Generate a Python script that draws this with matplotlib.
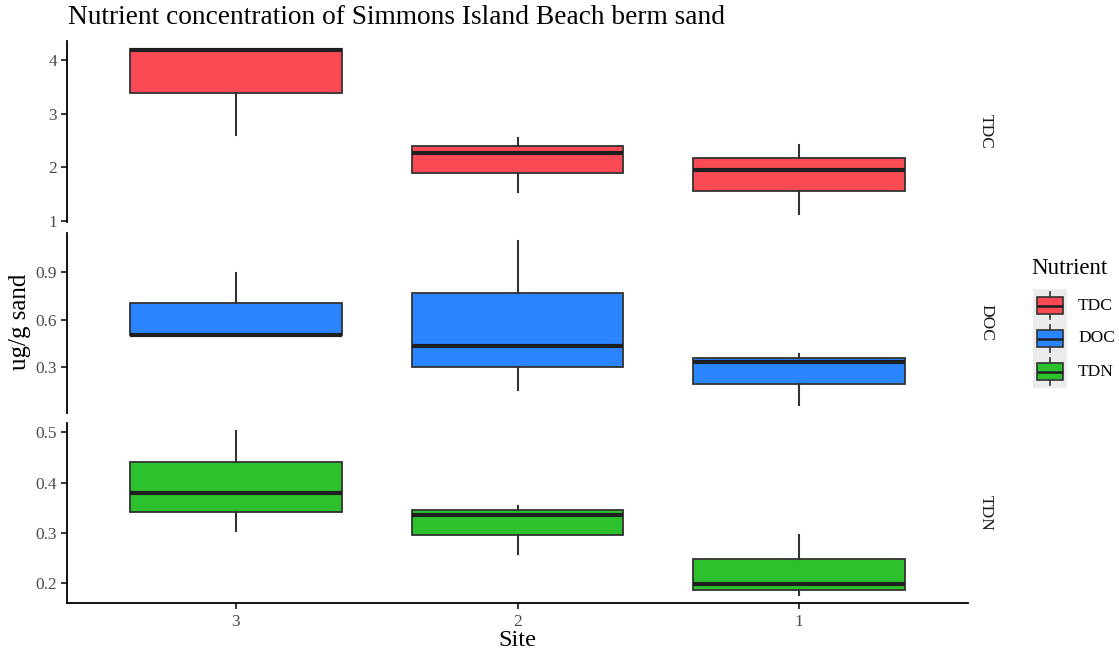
import matplotlib.pyplot as plt
from matplotlib.patches import Rectangle

plt.rcParams['font.family'] = ['Liberation Serif', 'DejaVu Serif']

sites = ['3', '2', '1']
nutrients = ['TDC', 'DOC', 'TDN']
fills = ['#FA4B55', '#2B85FF', '#2EC12E']

# five-number summaries per site, in site order 3, 2, 1
tdc_min = [2.60, 1.53, 1.13]
tdc_q1 = [3.40, 1.89, 1.55]
tdc_med = [4.20, 2.26, 1.94]
tdc_q3 = [4.21, 2.40, 2.17]
tdc_max = [4.21, 2.55, 2.42]

doc_min = [0.50, 0.157, 0.064]
doc_q1 = [0.50, 0.298, 0.193]
doc_med = [0.505, 0.435, 0.334]
doc_q3 = [0.707, 0.770, 0.360]
doc_max = [0.896, 1.096, 0.384]

tdn_min = [0.304, 0.257, 0.175]
tdn_q1 = [0.341, 0.295, 0.185]
tdn_med = [0.379, 0.335, 0.197]
tdn_q3 = [0.441, 0.345, 0.247]
tdn_max = [0.502, 0.353, 0.295]

yticks = [[1, 2, 3, 4], [0.3, 0.6, 0.9], [0.2, 0.3, 0.4, 0.5]]
ytick_fmt = ['{:.0f}', '{:.1f}', '{:.1f}']

summaries = [
    (tdc_min, tdc_q1, tdc_med, tdc_q3, tdc_max),
    (doc_min, doc_q1, doc_med, doc_q3, doc_max),
    (tdn_min, tdn_q1, tdn_med, tdn_q3, tdn_max),
]

W, H = 1119, 655
fig = plt.figure(figsize=(W / 100, H / 100), dpi=100)

def px_axes(x0, y0, x1, y1):
    return fig.add_axes([x0 / W, 1 - y1 / H, (x1 - x0) / W, (y1 - y0) / H])

panel_px = [(41, 222), (232.7, 412.7), (423.3, 603.3)]
edge = '#333333'
tick_col = '#4D4D4D'
positions = [1, 2, 3]

axes = []
for i, (nut, (lo, q1, med, q3, hi)) in enumerate(zip(nutrients, summaries)):
    y0, y1 = panel_px[i]
    ax = px_axes(67, y0, 968, y1)
    stats = [dict(whislo=a, q1=b, med=c, q3=d, whishi=e, label=s)
             for a, b, c, d, e, s in zip(lo, q1, med, q3, hi, sites)]
    ax.bxp(stats, positions=positions, widths=0.75, showfliers=False,
           showcaps=False, patch_artist=True,
           boxprops=dict(facecolor=fills[i], edgecolor=edge, linewidth=1.3),
           whiskerprops=dict(color=edge, linewidth=1.5),
           medianprops=dict(color='#1F1F1F', linewidth=3.0,
                            solid_capstyle='butt'))
    dmin, dmax = min(lo), max(hi)
    pad = 0.05 * (dmax - dmin)
    ax.set_ylim(dmin - pad, dmax + pad)
    ax.set_xlim(0.4, 3.6)
    ax.set_yticks(yticks[i])
    ax.set_yticklabels([ytick_fmt[i].format(v) for v in yticks[i]])
    for s in ['top', 'right']:
        ax.spines[s].set_visible(False)
    ax.spines['left'].set_linewidth(1.3)
    ax.spines['bottom'].set_linewidth(1.3)
    ax.tick_params(axis='y', labelsize=12.5, colors='black', labelcolor=tick_col,
                   length=4, width=1.1, pad=3)
    if i < 2:
        ax.spines['bottom'].set_visible(False)
        ax.tick_params(axis='x', bottom=False, labelbottom=False)
    else:
        ax.set_xticks(positions)
        ax.set_xticklabels(sites)
        ax.tick_params(axis='x', labelsize=12.5, colors='black', labelcolor=tick_col,
                       length=4, width=1.1, pad=4)
        ax.set_xlabel('Site', fontsize=17.5, labelpad=0)
    # facet strip label
    ax.text(1.02, 0.5, nut, transform=ax.transAxes, rotation=270,
            ha='center', va='center', fontsize=12.5, color='#1A1A1A')
    axes.append(ax)

fig.text(20 / W, 1 - 322 / H, 'ug/g sand', rotation=90, ha='center',
         va='center', fontsize=18)
fig.text(68 / W, 1 - 18 / H, 'Nutrient concentration of Simmons Island Beach berm sand',
         ha='left', va='center', fontsize=19.7)

# legend drawn as small boxplot glyphs on a grey key background
leg = px_axes(1033, 289, 1067, 388)
leg.set_xlim(0, 1)
leg.set_ylim(3, 0)
leg.axis('off')
leg.add_patch(Rectangle((0, 0), 1, 3, facecolor='#EBEBEB', edgecolor='none'))
for k, col in enumerate(fills):
    c = k + 0.5
    leg.plot([0.5, 0.5], [c - 0.42, c + 0.42], color=edge, linewidth=1.2)
    leg.add_patch(Rectangle((0.12, c - 0.26), 0.76, 0.52, facecolor=col,
                            edgecolor=edge, linewidth=1.2, zorder=3))
    leg.plot([0.12, 0.88], [c, c], color='#1F1F1F', linewidth=1.8, zorder=4,
             solid_capstyle='butt')
    fig.text(1078 / W, 1 - (289 + 33 * c) / H, nutrients[k], ha='left',
             va='center', fontsize=12.5)
fig.text(1031 / W, 1 - 268 / H, 'Nutrient', ha='left', va='center', fontsize=16.5)

fig.savefig('out.png', dpi=100)
